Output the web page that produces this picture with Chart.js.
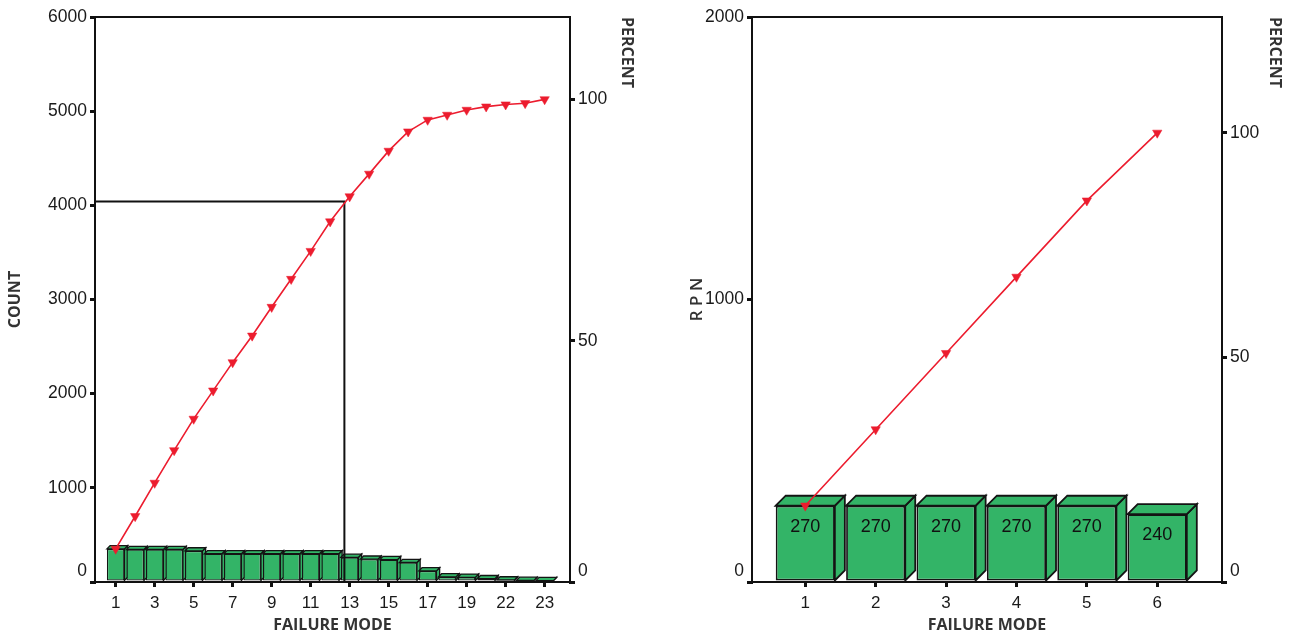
<!DOCTYPE html>
<html><head><meta charset="utf-8">
<script src="https://cdn.jsdelivr.net/npm/chart.js@4.4.1/dist/chart.umd.min.js"></script>
<style>
html,body{margin:0;padding:0;background:#fff;}
#wrap{position:relative;width:1307px;height:636px;overflow:hidden;background:#fff;}
.box{position:absolute;top:0;height:636px;}
</style></head><body>
<div id="wrap">
  <div class="box" style="left:0;width:650px"><canvas id="c1" width="650" height="636"></canvas></div>
  <div class="box" style="left:650px;width:657px"><canvas id="c2" width="657" height="636"></canvas></div>
</div>
<script>
// ---------- Left chart data: counts per failure mode ----------
const modeLabels = ['1','2','3','4','5','6','7','8','9','10','11','12','13','14','15','16','17','18','19','20','22','21','23'];
const modeCounts = [352,345,345,345,330,300,300,300,300,300,300,300,262,242,238,207,118,54,50,35,22,17,15];
const modeCumCounts = [352,698,1052,1398,1732,2032,2332,2615,2920,3217,3514,3828,4094,4334,4578,4783,4907,4960,5013,5048,5070,5084,5125];
const modeTicksShown = [1,3,5,7,9,11,13,15,17,19,21,23];
const countTicks = [0,1000,2000,3000,4000,5000,6000];
const percentTicks = [0,50,100];
const cutoffX = [-0.06, 12.73, 12.73];
const cutoffY = [4040, 4040, 0];

// ---------- Right chart data: RPN per failure mode ----------
const rpnLabels = ['1','2','3','4','5','6'];
const rpnValues = [270,270,270,270,270,240];
const rpnCumValues = [270,540,810,1080,1350,1590];
const rpnTicks = [0,1000,2000];

// ---------- styles ----------
const GREEN = '#33b467', EDGE = '#141414', RED = '#ec1c2e', AXIS = '#111';
const NARROW = "'Liberation Sans Narrow','Arial Narrow','Liberation Sans',Arial,sans-serif";
const TITLE = "'Open Sans','Noto Sans',sans-serif";
const tickFont = s => ({family: NARROW, size: s});
const titleFont = (s, w) => ({family: TITLE, size: s, weight: w});
const zeroLift = v => (v === 0 ? ['0', ''] : String(v));
const setTicks = arr => (s => { s.ticks = arr.map(v => ({value: v})); });

const bar3d = {
  id: 'bar3d',
  beforeDatasetDraw(chart, args, opts) {
    if (args.meta.type !== 'bar') return;
    const d = opts.depth, ctx = chart.ctx;
    ctx.save();
    ctx.lineWidth = opts.edgeWidth;
    ctx.strokeStyle = EDGE;
    ctx.lineJoin = 'miter';
    args.meta.data.forEach(el => {
      const {x, y, base, width} = el.getProps(['x', 'y', 'base', 'width'], true);
      const l = x - width / 2, r = x + width / 2;
      ctx.beginPath();
      ctx.moveTo(r, y); ctx.lineTo(r + d, y - d); ctx.lineTo(r + d, base - d); ctx.lineTo(r, base);
      ctx.closePath();
      ctx.fillStyle = GREEN; ctx.fill(); ctx.stroke();
      ctx.beginPath();
      ctx.moveTo(l, y); ctx.lineTo(l + d, y - d); ctx.lineTo(r + d, y - d); ctx.lineTo(r, y);
      ctx.closePath();
      ctx.fillStyle = GREEN; ctx.fill(); ctx.stroke();
    });
    ctx.restore();
  },
  afterDatasetDraw(chart, args, opts) {
    if (args.meta.type !== 'bar' || !opts.labels) return;
    const ctx = chart.ctx;
    const ds = chart.data.datasets[args.index];
    ctx.save();
    ctx.font = "18px " + NARROW;
    ctx.fillStyle = '#111';
    ctx.textAlign = 'center';
    ctx.textBaseline = 'middle';
    args.meta.data.forEach((el, i) => {
      const {x, y} = el.getProps(['x', 'y'], true);
      ctx.fillText(String(ds.data[i].y), x, y + 21);
    });
    ctx.restore();
  }
};

const frameTop = {
  id: 'frameTop',
  afterDraw(chart) {
    const a = chart.chartArea, ctx = chart.ctx;
    ctx.save();
    ctx.strokeStyle = AXIS; ctx.lineWidth = 2;
    ctx.beginPath(); ctx.moveTo(a.left - 1, a.top); ctx.lineTo(a.right + 1, a.top); ctx.stroke();
    ctx.restore();
  }
};

function axisCommon(extra) {
  return Object.assign({
    grid: {drawOnChartArea: false, drawTicks: true, tickLength: 5, lineWidth: 3, color: AXIS,
           tickColor: AXIS, offset: false},
    border: {display: true, color: AXIS, width: 2}
  }, extra);
}

function pareto(canvasId, o) {
  const pos = o.labels.map((_, i) => i + 1);
  const total = o.cum[o.cum.length - 1];
  const datasets = [
    {type: 'line', data: pos.map((p, i) => ({x: p, y: o.cum[i]})), yAxisID: 'y',
     borderColor: RED, borderWidth: 1.6, tension: 0, order: 0,
     pointStyle: 'triangle', pointRotation: 180, pointRadius: 5.4, pointHoverRadius: 5.4,
     pointBackgroundColor: RED, pointBorderColor: RED, pointBorderWidth: 0.5},
    {type: 'bar', data: pos.map((p, i) => ({x: p, y: o.values[i]})), yAxisID: 'y',
     backgroundColor: GREEN, borderColor: EDGE, borderWidth: o.edge, borderSkipped: false,
     categoryPercentage: 1, barPercentage: o.barPct, order: 2}
  ];
  if (o.cutX) {
    datasets.push({type: 'line', data: o.cutX.map((x, i) => ({x, y: o.cutY[i]})), yAxisID: 'y',
      borderColor: AXIS, borderWidth: 2, pointRadius: 0, tension: 0, order: 1});
  }
  return new Chart(document.getElementById(canvasId), {
    type: 'bar',
    data: {datasets},
    plugins: [bar3d, frameTop],
    options: {
      responsive: false, animation: false, devicePixelRatio: 1,
      layout: {padding: {top: 17, left: 0, right: 0, bottom: 0}},
      plugins: {legend: {display: false}, tooltip: {enabled: false},
                bar3d: {depth: o.depth, edgeWidth: o.edge, labels: o.valueLabels}},
      scales: {
        x: axisCommon({
          type: 'linear', min: o.xMin, max: o.xMax, offset: false,
          afterBuildTicks: setTicks(o.xTicks),
          afterFit: s => { s.height = 54; },
          ticks: {callback: v => o.labels[v - 1], font: tickFont(17), color: '#1a1a1a',
                  padding: 6, maxRotation: 0, autoSkip: false},
          title: {display: true, text: 'FAILURE MODE', font: titleFont(16, '700'), color: '#333',
                  padding: {top: 0, bottom: 0.5}}
        }),
        y: axisCommon({
          position: 'left', min: 0, max: o.yMax,
          afterBuildTicks: setTicks(o.yTicks),
          afterFit: s => { s.width = o.leftW; },
          ticks: {callback: zeroLift, font: tickFont(17.5), color: '#1a1a1a', padding: 3},
          title: {display: true, text: o.yTitle, font: o.yTitleFont, color: '#333',
                  padding: {top: o.yTitlePad, bottom: 0}}
        }),
        y1: axisCommon({
          position: 'right', min: 0, max: o.yMax / total * 100,
          afterBuildTicks: setTicks(percentTicks),
          afterFit: s => { s.width = o.rightW; },
          ticks: {callback: zeroLift, font: tickFont(17.5), color: '#1a1a1a', padding: 3},
          title: {display: true, text: 'PERCENT', align: 'end', font: titleFont(16, '700'), color: '#333',
                  padding: {top: o.pTitlePad, bottom: 0}}
        })
      }
    }
  });
}

pareto('c1', {
  labels: modeLabels, values: modeCounts, cum: modeCumCounts,
  xMin: -0.06, xMax: 24.3, xTicks: modeTicksShown, yMax: 6000, yTicks: countTicks,
  leftW: 95, rightW: 80, barPct: 0.9, depth: 3.2, edge: 1.3,
  yTitle: 'COUNT', yTitleFont: titleFont(16, '700'), yTitlePad: 5.4, pTitlePad: 13.4,
  cutX: cutoffX, cutY: cutoffY, valueLabels: false
});

pareto('c2', {
  labels: rpnLabels, values: rpnValues, cum: rpnCumValues,
  xMin: 0.243, xMax: 6.92, xTicks: rpnLabels.map((_, i) => i + 1), yMax: 2000, yTicks: rpnTicks,
  leftW: 102, rightW: 85, barPct: 0.84, depth: 10, edge: 1.8,
  yTitle: 'R P N', yTitleFont: titleFont(17, '600'), yTitlePad: 36.8, pTitlePad: 22.4,
  valueLabels: true
});
</script>
</body></html>
